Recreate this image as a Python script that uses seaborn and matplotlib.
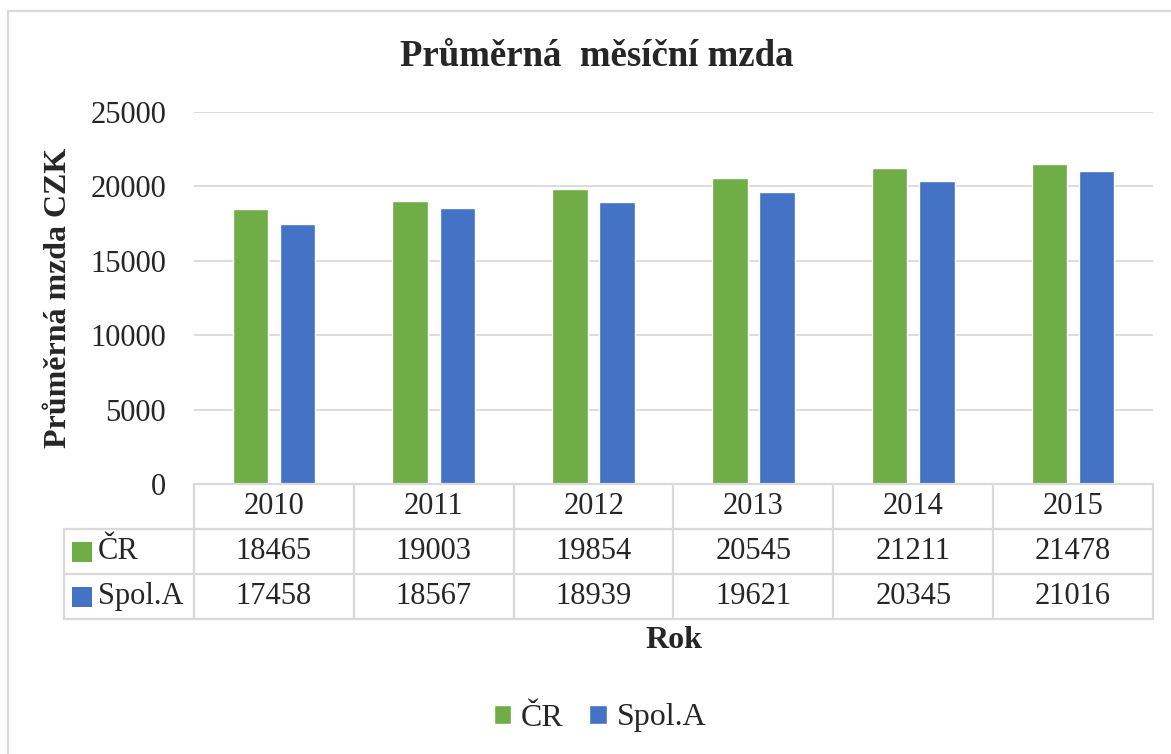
import matplotlib
matplotlib.use("Agg")
import matplotlib.pyplot as plt
import seaborn as sns
import pandas as pd
from matplotlib.patches import Rectangle

# ---- data ----
years = ["2010", "2011", "2012", "2013", "2014", "2015"]
series_names = ["ČR", "Spol.A"]
cr_values = [18465, 19003, 19854, 20545, 21211, 21478]
spol_values = [17458, 18567, 18939, 19621, 20345, 21016]
yticks = [0, 5000, 10000, 15000, 20000, 25000]
title_text = "Průměrná  měsíční mzda"
ylabel_text = "Průměrná mzda CZK"
xlabel_text = "Rok"

colors = ["#70AD47", "#4472C4"]
grid_c = "#D9D9D9"

sns.set_theme(style="white")
plt.rcParams["font.family"] = ["Liberation Serif", "DejaVu Serif"]

df = pd.DataFrame({
    "Rok": years * 2,
    "value": cr_values + spol_values,
    "series": [series_names[0]] * len(years) + [series_names[1]] * len(years),
})

W, H = 1171, 754
fig = plt.figure(figsize=(W / 100, H / 100), dpi=100)

# outer chart frame (right/bottom edges cut off)
fig.patches.append(Rectangle((8 / W, -0.2), 1.2, 1 - 11 / H + 0.2,
                             transform=fig.transFigure, fill=False,
                             edgecolor="#D9D9D9", linewidth=1.6))

ax_l, ax_r = 194 / W, 1153 / W
ax = fig.add_axes([ax_l, 1 - 484 / H, ax_r - ax_l, (484 - 112) / H])
sns.barplot(data=df, x="Rok", y="value", hue="series", palette=colors,
            width=0.59, gap=0.245, saturation=1, ax=ax, errorbar=None)

fs = 22
ax.set_ylim(0, 25000)
ax.set_yticks(yticks)
ax.set_yticklabels([str(t) for t in yticks], fontsize=fs)
ax.tick_params(axis="y", length=0, pad=20)
ax.set_xticks([])
ax.set_xlabel("")
ax.set_ylabel("")
ax.set_xlim(-0.5, len(years) - 0.5)
for s in ax.spines.values():
    s.set_visible(False)
ax.yaxis.grid(True, color=grid_c, linewidth=1.3)
ax.set_axisbelow(True)

handles, labels = ax.get_legend_handles_labels()
ax.get_legend().remove()

# ---- data table below the plot ----
tax = fig.add_axes([ax_l, 1 - 619 / H, ax_r - ax_l, 135 / H])
tax.set_xlim(-0.5, len(years) - 0.5)
tax.set_ylim(3, 0)
tax.axis("off")
left_ext = -0.5 - (194 - 64) / 160
lw = 1.6
# horizontal lines
tax.plot([-0.5, len(years) - 0.5], [0, 0], color=grid_c, lw=lw, clip_on=False)
for yy in [1, 2, 3]:
    tax.plot([left_ext, len(years) - 0.5], [yy, yy], color=grid_c, lw=lw, clip_on=False)
# vertical lines
for k in range(len(years) + 1):
    tax.plot([k - 0.5, k - 0.5], [0, 3], color=grid_c, lw=lw, clip_on=False)
tax.plot([left_ext, left_ext], [1, 3], color=grid_c, lw=lw, clip_on=False)

for i, yr in enumerate(years):
    tax.text(i, 0.5, yr, ha="center", va="center", fontsize=fs)
    tax.text(i, 1.5, str(cr_values[i]), ha="center", va="center", fontsize=fs)
    tax.text(i, 2.5, str(spol_values[i]), ha="center", va="center", fontsize=fs)

mk_x = left_ext + (82 - 64) / 160
for r, (name, c) in enumerate(zip(series_names, colors)):
    tax.scatter([mk_x], [1.5 + r], marker="s", s=200, color=c, clip_on=False, linewidths=0)
    tax.text(mk_x + 0.1, 1.5 + r, name, ha="left", va="center", fontsize=fs)

# ---- titles ----
fig.text(597 / W, 1 - 57 / H, title_text, ha="center", va="center",
         fontsize=26.5, fontweight="bold")
fig.text(59 / W, 1 - 298 / H, ylabel_text, ha="center", va="center",
         rotation=90, fontsize=23, fontweight="bold")
fig.text(674 / W, 1 - 641 / H, xlabel_text, ha="center", va="center",
         fontsize=23, fontweight="bold")

fig.legend(handles, labels, loc="center", bbox_to_anchor=(600 / W, 1 - 718 / H),
           ncol=2, frameon=False, fontsize=23, handlelength=0.55,
           handleheight=0.55, handletextpad=0.3, columnspacing=0.8)

fig.savefig("out.png", dpi=100)
